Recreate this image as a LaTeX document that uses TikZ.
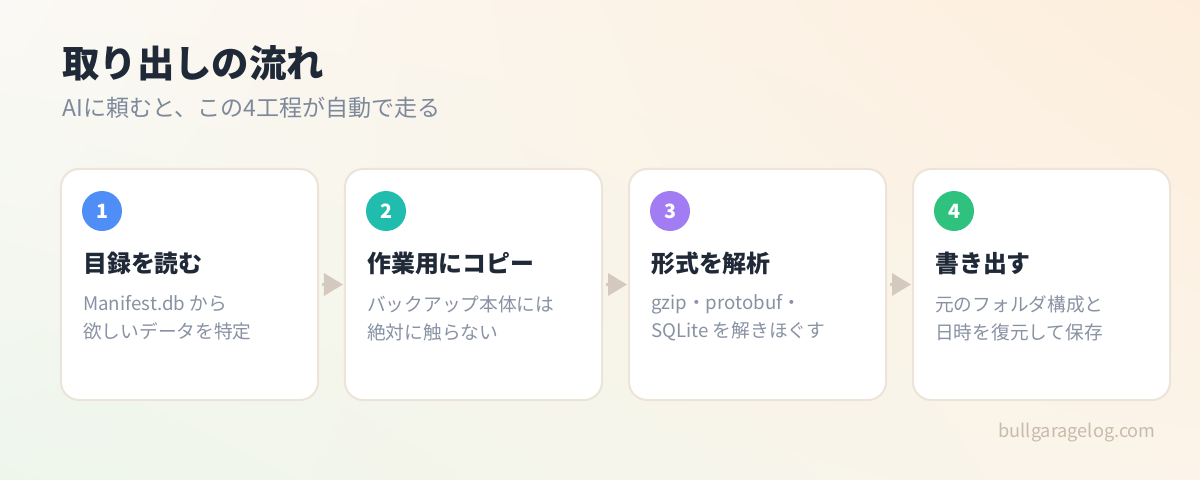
\documentclass[tikz,border=0pt]{standalone}
\usepackage{fontspec}
\setmainfont{Noto Sans CJK JP}
\usepackage{xcolor}
\usepackage{tikz}
\usetikzlibrary{arrows.meta, shadings}

\definecolor{ink}{HTML}{1F2937}
\definecolor{mutedInk}{HTML}{7D899B}
\definecolor{bodyInk}{HTML}{8892A3}
\definecolor{cardLine}{HTML}{ECE4D8}
\definecolor{arrowTan}{HTML}{D4C9BE}
\definecolor{footInk}{HTML}{C9BBAB}
\definecolor{badgeBlue}{HTML}{4F8EF7}
\definecolor{badgeTeal}{HTML}{20BDAF}
\definecolor{badgePurple}{HTML}{A27CF2}
\definecolor{badgeGreen}{HTML}{2EC27E}
\definecolor{bgTL}{HTML}{FBF9F5}
\definecolor{bgTR}{HTML}{FDEEDC}
\definecolor{bgBL}{HTML}{EEF6EC}
\definecolor{bgBR}{HTML}{FCF4EA}

\begin{document}
\begin{tikzpicture}[x=0.25mm, y=-0.25mm,
  card/.style = {shape=rectangle, rounded corners=4.5mm, fill=white, draw=cardLine, line width=0.5mm, minimum width=64.25mm, minimum height=57.75mm, outer sep=0pt},
  badge/.style = {circle, minimum size=10mm, inner sep=0pt, text=white, font=\bfseries\fontsize{14pt}{14pt}\selectfont},
  stepTitle/.style = {anchor=west, inner sep=0pt, text=ink, font=\bfseries\fontsize{17pt}{20pt}\selectfont},
  stepText/.style = {anchor=west, inner sep=0pt, align=left, text=bodyInk, font=\fontsize{13.3pt}{19.9pt}\selectfont},
  flow/.style = {draw=arrowTan, line width=0.8mm, -{Triangle[length=4.75mm, width=5.5mm]}, shorten <=1mm, shorten >=0.5mm}]

\useasboundingbox (0,0) rectangle (1200,480);
\shade[upper left=bgTL, upper right=bgTR, lower left=bgBL, lower right=bgBR] (0,0) rectangle (1200,480);

\node (title) [anchor=west, inner sep=0pt, text=ink, font=\bfseries\fontsize{26.6pt}{30pt}\selectfont] at (62,63) {取り出しの流れ};
\node (subtitle) [anchor=west, inner sep=0pt, text=mutedInk, font=\fontsize{16.4pt}{20pt}\selectfont] at (62,108) {AIに頼むと、この4工程が自動で走る};

\node (readIndex) [card] at (189.5,284.5) {};
\node (copyWork) [card] at (473.5,284.5) {};
\node (parseFormat) [card] at (757.5,284.5) {};
\node (writeOut) [card] at (1041.5,284.5) {};

\node (badgeOne) [badge, fill=badgeBlue] at (102,211) {1};
\node (badgeTwo) [badge, fill=badgeTeal] at (386,211) {2};
\node (badgeThree) [badge, fill=badgePurple] at (670,211) {3};
\node (badgeFour) [badge, fill=badgeGreen] at (954,211) {4};

\node (readIndexTitle) [stepTitle] at (83,263) {目録を読む};
\node (copyWorkTitle) [stepTitle] at (367,263) {作業用にコピー};
\node (parseFormatTitle) [stepTitle] at (651,263) {形式を解析};
\node (writeOutTitle) [stepTitle] at (935,263) {書き出す};

\node (readIndexText) [stepText] at (83,318) {Manifest.db から\\欲しいデータを特定};
\node (copyWorkText) [stepText] at (367,318) {バックアップ本体には\\絶対に触らない};
\node (parseFormatText) [stepText] at (651,318) {gzip・protobuf・\\SQLite を解きほぐす};
\node (writeOutText) [stepText] at (935,318) {元のフォルダ構成と\\日時を復元して保存};

\draw[flow] (readIndex) -- (copyWork);
\draw[flow] (copyWork) -- (parseFormat);
\draw[flow] (parseFormat) -- (writeOut);

\node (footer) [anchor=east, inner sep=0pt, text=footInk, font=\fontsize{12.9pt}{15pt}\selectfont] at (1156,433) {bullgaragelog.com};
\end{tikzpicture}
\end{document}
